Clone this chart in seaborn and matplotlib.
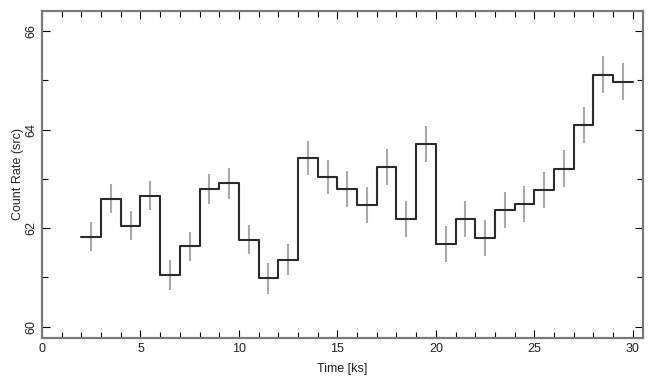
import numpy as np
import pandas as pd
import matplotlib
matplotlib.use("Agg")
import matplotlib.pyplot as plt
from matplotlib.ticker import MultipleLocator
import seaborn as sns

# Bin start times [ks] (1 ks bins)
bin_start = [2, 3, 4, 5, 6, 7, 8, 9, 10, 11, 12, 13, 14, 15, 16, 17, 18, 19,
             20, 21, 22, 23, 24, 25, 26, 27, 28, 29]
bin_width = 1.0
rate = [61.83, 62.60, 62.05, 62.66, 61.05, 61.63, 62.80, 62.91, 61.77, 60.98,
        61.36, 63.43, 63.04, 62.80, 62.47, 63.25, 62.18, 63.70, 61.68, 62.18,
        61.80, 62.36, 62.49, 62.78, 63.21, 64.09, 65.12, 64.97]
rate_err = [0.30, 0.30, 0.30, 0.30, 0.30, 0.30, 0.30, 0.31, 0.30, 0.315,
            0.32, 0.34, 0.35, 0.36, 0.365, 0.365, 0.365, 0.365, 0.36, 0.365,
            0.365, 0.365, 0.365, 0.365, 0.37, 0.37, 0.38, 0.375]

sns.set_style("ticks")
plt.rcParams['font.family'] = ['Liberation Sans', 'DejaVu Sans']

fig = plt.figure(figsize=(6.55, 3.85), dpi=100)
ax = fig.add_axes([42/655, (385-338)/385, (643-42)/655, (338-11)/385])

starts = np.array(bin_start, dtype=float)
centers = starts + bin_width / 2
step_df = pd.DataFrame({
    "t": np.append(starts, starts[-1] + bin_width),
    "r": np.append(rate, rate[-1]),
})

ax.vlines(centers, np.array(rate) - np.array(rate_err), np.array(rate) + np.array(rate_err),
          color="#aaaaaa", lw=1.5, zorder=2)
sns.lineplot(data=step_df, x="t", y="r", drawstyle="steps-post", estimator=None,
             color="#2a2a2a", lw=1.5, ax=ax, zorder=3)

ax.set_xlim(0, 30.52)
ax.set_ylim(59.77, 66.41)
ax.xaxis.set_major_locator(MultipleLocator(5))
ax.xaxis.set_minor_locator(MultipleLocator(1))
ax.yaxis.set_major_locator(MultipleLocator(2))
ax.yaxis.set_minor_locator(MultipleLocator(1))
ax.tick_params(which="both", direction="in", top=True, right=True, labelsize=9,
               color="black", width=0.8, labelcolor="#222222")
ax.tick_params(which="major", length=5.5)
ax.tick_params(which="minor", length=4)
for lbl in ax.get_yticklabels():
    lbl.set_rotation(90)
    lbl.set_va("center")
for s in ax.spines.values():
    s.set_color("#7a7a7a")
    s.set_linewidth(1.6)

ax.set_xlabel("Time [ks]", fontsize=9, labelpad=6, color="#222222")
ax.set_ylabel("Count Rate (src)", fontsize=9, labelpad=1, color="#222222")

fig.savefig("out.png", dpi=100)
